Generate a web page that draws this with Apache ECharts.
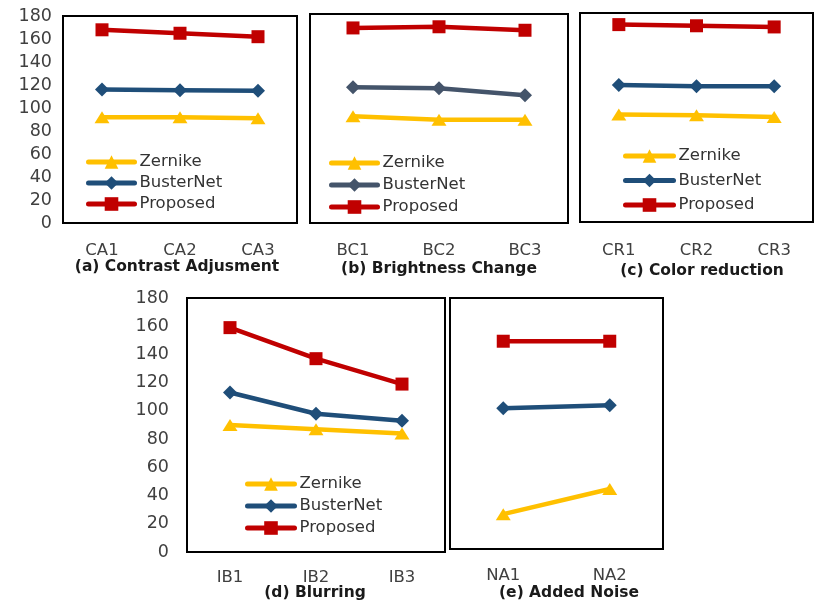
<!DOCTYPE html>
<html><head><meta charset="utf-8">
<script src="https://cdn.jsdelivr.net/npm/echarts@6/dist/echarts.min.js"></script>
<style>html,body{margin:0;padding:0;background:#fff}#c{width:814px;height:605px}</style>
</head><body><div id="c"></div>
<script>
const seriesNames = ['Zernike', 'BusterNet', 'Proposed'];
const catA = ['CA1', 'CA2', 'CA3'];
const zernikeA = [92, 92, 91];
const busterA = [116, 115.5, 115];
const proposedA = [168, 165, 162];
const catB = ['BC1', 'BC2', 'BC3'];
const zernikeB = [92, 89, 89];
const busterB = [117, 116, 110];
const proposedB = [168, 169, 166];
const catC = ['CR1', 'CR2', 'CR3'];
const zernikeC = [92.5, 92, 90.5];
const busterC = [118, 117, 117];
const proposedC = [170, 169, 168];
const catD = ['IB1', 'IB2', 'IB3'];
const zernikeD = [90, 87, 84];
const busterD = [113, 98, 93];
const proposedD = [159, 137, 119];
const catE = ['NA1', 'NA2'];
const zernikeE = [25, 43];
const busterE = [101, 103];
const proposedE = [149, 149];
const titles = ['(a) Contrast Adjusment', '(b) Brightness Change', '(c) Color reduction', '(d) Blurring', '(e) Added Noise'];

const FONT = 'DejaVu Sans';
const colZ = '#FFC000', colB = '#1F4E79', colBgray = '#44546A', colP = '#C00000';

const panels = [
  {cats: catA, z: zernikeA, b: busterA, p: proposedA, grid: {left: 63, top: 16, width: 234, height: 207}, ylab: true, ymargin: 11, bcol: colB, lmargin: 19},
  {cats: catB, z: zernikeB, b: busterB, p: proposedB, grid: {left: 310, top: 14, width: 258, height: 209}, ylab: false, ymargin: 10, bcol: colBgray, lmargin: 19},
  {cats: catC, z: zernikeC, b: busterC, p: proposedC, grid: {left: 580, top: 13, width: 233, height: 209}, ylab: false, ymargin: 10, bcol: colB, lmargin: 20},
  {cats: catD, z: zernikeD, b: busterD, p: proposedD, grid: {left: 187, top: 298, width: 258, height: 254}, ylab: true, ymargin: 18, bcol: colB, lmargin: 17},
  {cats: catE, z: zernikeE, b: busterE, p: proposedE, grid: {left: 450, top: 298, width: 213, height: 251}, ylab: false, ymargin: 10, bcol: colB, lmargin: 18}
];

const grid = [], xAxis = [], yAxis = [], series = [];
panels.forEach((pn, i) => {
  grid.push(Object.assign({show: true, borderColor: '#000', borderWidth: 2, backgroundColor: 'transparent'}, pn.grid));
  xAxis.push({type: 'category', gridIndex: i, data: pn.cats, boundaryGap: true,
    axisLine: {show: false}, axisTick: {show: false}, splitLine: {show: false},
    axisLabel: {fontFamily: FONT, fontSize: 16.5, color: '#404040', margin: pn.lmargin}});
  yAxis.push({type: 'value', gridIndex: i, min: 0, max: 180, interval: 20,
    axisLine: {show: false}, axisTick: {show: false}, splitLine: {show: false},
    axisLabel: {show: pn.ylab, fontFamily: FONT, fontSize: 17.5, color: '#404040', margin: pn.ymargin}});
  const common = {type: 'line', xAxisIndex: i, yAxisIndex: i, showSymbol: true, animation: false, z: 3};
  series.push(Object.assign({}, common, {name: 'Zernike', data: pn.z, symbol: 'triangle', symbolSize: [15, 12],
    lineStyle: {color: colZ, width: 4.5}, itemStyle: {color: colZ}}));
  series.push(Object.assign({}, common, {name: 'BusterNet', data: pn.b, symbol: 'diamond', symbolSize: [14, 14],
    lineStyle: {color: pn.bcol, width: 4.5}, itemStyle: {color: pn.bcol}}));
  series.push(Object.assign({}, common, {name: 'Proposed', data: pn.p, symbol: 'rect', symbolSize: [13, 13],
    lineStyle: {color: colP, width: 4.5}, itemStyle: {color: colP}}));
});

function mkLegend(left, top, gap, iw, bcol) {
  return {orient: 'vertical', left: left, top: top, padding: 0, itemGap: gap, itemWidth: iw, itemHeight: 17,
    selectedMode: false,
    textStyle: {fontFamily: FONT, fontSize: 16.5, color: '#333333'},
    data: [
      {name: 'Zernike', itemStyle: {color: colZ}, lineStyle: {color: colZ, width: 5, cap: 'round'}},
      {name: 'BusterNet', itemStyle: {color: bcol}, lineStyle: {color: bcol, width: 5, cap: 'round'}},
      {name: 'Proposed', itemStyle: {color: colP}, lineStyle: {color: colP, width: 5, cap: 'round'}}
    ]};
}
const legend = [
  mkLegend(86, 153.5, 4, 46, colB),
  mkLegend(329, 154.5, 5, 46, colBgray),
  mkLegend(623, 147.5, 7.5, 48, colB),
  mkLegend(245, 475.5, 5, 47, colB)
];

const titlePos = [[177, 267], [439, 269], [702, 271], [315, 593], [569, 593]];
const graphic = titles.map((t, i) => ({type: 'text', x: titlePos[i][0], y: titlePos[i][1],
  style: {text: t, fill: '#1a1a1a', font: 'bold 15.5px "' + FONT + '"', textAlign: 'center', textVerticalAlign: 'middle'}}));

const chart = echarts.init(document.getElementById('c'));
chart.setOption({animation: false, backgroundColor: '#fff', grid, xAxis, yAxis, series, legend, graphic});
</script></body></html>
